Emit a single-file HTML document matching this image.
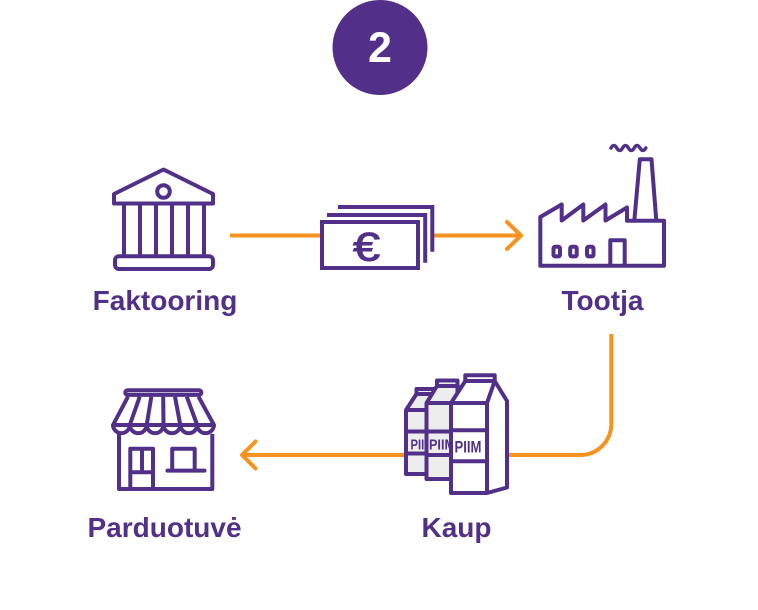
<!DOCTYPE html>
<html>
<head>
<meta charset="utf-8">
<style>
  html, body { margin:0; padding:0; background:#ffffff; }
  body { width:758px; height:610px; overflow:hidden; }
  svg { display:block; }
  .t { font-family:"Liberation Sans", Arial, sans-serif; font-weight:bold; }
</style>
</head>
<body>
<svg width="758" height="610" viewBox="0 0 758 610" xmlns="http://www.w3.org/2000/svg">
  <rect width="758" height="610" fill="#ffffff"/>

  <!-- Badge -->
  <circle cx="380" cy="47.5" r="47.5" fill="#52308a"/>
  <text x="380" y="62" class="t" font-size="43" fill="#ffffff" text-anchor="middle">2</text>

  <g fill="none" stroke="#f7931e" stroke-width="4">
    <!-- top connector -->
    <line x1="230" y1="235.5" x2="322" y2="235.5"/>
    <line x1="432" y1="235.5" x2="520" y2="235.5"/>
    <polyline points="507,222 521,235.5 507,249" stroke-linecap="round" stroke-linejoin="round"/>
    <!-- bottom connector -->
    <path d="M611.3,334 V424 A31,31 0 0 1 580.3,455 H244"/>
    <polyline points="255.5,441.5 242,455 255.5,468.5" stroke-linecap="round" stroke-linejoin="round"/>
  </g>

  <g fill="none" stroke="#52308a" stroke-width="4" stroke-linejoin="round">
    <!-- Bank -->
    <path d="M163.5,169.5 L114,194 V203.5 H213 V194 Z" fill="#ffffff"/>
    <circle cx="163.5" cy="191.5" r="6.3"/>
    <line x1="124" y1="203" x2="124" y2="256"/>
    <line x1="140" y1="203" x2="140" y2="256"/>
    <line x1="156" y1="203" x2="156" y2="256"/>
    <line x1="172" y1="203" x2="172" y2="256"/>
    <line x1="188" y1="203" x2="188" y2="256"/>
    <line x1="204" y1="203" x2="204" y2="256"/>
    <rect x="115" y="256.3" width="98" height="12.7" rx="4"/>

    <!-- Money -->
    <path d="M338,207 H432.3 V251.7 L425,251.7 V215 H338 Z" fill="#ffffff" stroke="none"/>
    <polyline points="338,207 432.3,207 432.3,251.7" stroke-linejoin="miter"/>
    <path d="M327,215 H425.2 V262.7 H418 V222 H327 Z" fill="#ffffff" stroke="none"/>
    <polyline points="327,215 425.2,215 425.2,262.7" stroke-linejoin="miter"/>
    <rect x="322" y="222" width="96" height="46" fill="#ffffff" stroke-linejoin="miter"/>

    <!-- Factory -->
    <path d="M540.3,265.7 V217 L561.7,204.5 V220.5 L583.3,204.5 V220.5 L605.5,204.5 V220.5 L627,207.5 V220.7 H664 V265.7 Z"/>
    <path d="M634.3,220.7 L639.8,159.3 H651.5 L656.3,220.7"/>
    <path d="M611,148 q2.9,-5 5.8,0 t5.8,0 t5.8,0 t5.8,0 t5.8,0 t5.8,0" stroke-width="3.5" stroke-linecap="round"/>
    <rect x="553.5" y="246.8" width="6.5" height="9.6" rx="1.5"/>
    <rect x="570.2" y="246.8" width="6.5" height="9.6" rx="1.5"/>
    <rect x="587" y="246.8" width="6.5" height="9.6" rx="1.5"/>
    <path d="M610.3,265.7 V240.3 H624.7 V265.7"/>

    <!-- Shop -->
    <rect x="125.3" y="390.3" width="76" height="4.6" rx="2.3"/>
    <path d="M128,396.7 L113,425 H214 L198.5,396.7"/>
    <line x1="139.7" y1="396.7" x2="129.8" y2="425"/>
    <line x1="151.3" y1="396.7" x2="146.7" y2="425"/>
    <line x1="163.2" y1="396.7" x2="163.5" y2="425"/>
    <line x1="175" y1="396.7" x2="180.3" y2="425"/>
    <line x1="186.8" y1="396.7" x2="197.2" y2="425"/>
    <path d="M113,425 a8.42,8.42 0 0 0 16.83,0 a8.42,8.42 0 0 0 16.83,0 a8.42,8.42 0 0 0 16.83,0 a8.42,8.42 0 0 0 16.83,0 a8.42,8.42 0 0 0 16.83,0 a8.42,8.42 0 0 0 16.83,0"/>
    <path d="M119,434 V489 H212.3 V434"/>
    <path d="M130.3,489 V448.7 H153 V489"/>
    <line x1="130.3" y1="472.3" x2="153" y2="472.3"/>
    <line x1="142" y1="448.7" x2="142" y2="472.3"/>
    <path d="M172.2,470 V448.7 H194.7 V470"/>
    <line x1="167.5" y1="470.6" x2="204.5" y2="470.6" stroke-linecap="round"/>

    <!-- Milk cartons: back -->
    <path d="M406,474 V410 L416.5,394 H434 L448,408.5 V470 L433,474 Z" fill="#ededed"/>
    <rect x="416.5" y="389" width="17.5" height="5" fill="#ededed"/>
    <path d="M406,410 H433 V474 M433,410 L434,394"/>
    <line x1="406" y1="431.5" x2="433" y2="431.5"/>
    <line x1="406" y1="453.5" x2="433" y2="453.5"/>
  </g>
  <text x="410.5" y="449.5" class="t" font-size="15" fill="#52308a" textLength="23" lengthAdjust="spacingAndGlyphs">PIIM</text>

  <g fill="none" stroke="#52308a" stroke-width="4" stroke-linejoin="round">
    <!-- middle carton -->
    <path d="M426.5,479 V403 L437,386 H457.5 L474.5,402 V475 L457.5,479 Z" fill="#ededed"/>
    <rect x="437" y="380.5" width="20.5" height="5.5" fill="#ededed"/>
    <path d="M426.5,403 H457.5 V479 M457.5,403 L457.5,386"/>
    <line x1="426.5" y1="431.5" x2="457.5" y2="431.5"/>
    <line x1="426.5" y1="455" x2="457.5" y2="455"/>
  </g>
  <text x="429" y="449.5" class="t" font-size="15" fill="#52308a" textLength="26" lengthAdjust="spacingAndGlyphs">PIIM</text>

  <g fill="none" stroke="#52308a" stroke-width="4" stroke-linejoin="round">
    <!-- front carton -->
    <path d="M451,493 V403 L465.3,381 H494.7 L507,401 V487.5 L487,493 Z" fill="#ffffff"/>
    <rect x="465.3" y="375.3" width="29.4" height="5.7" fill="#ffffff"/>
    <path d="M451,403 H487 V493 M487,403 L494.7,381"/>
    <line x1="451" y1="430.3" x2="487" y2="430.3"/>
    <line x1="451" y1="461.3" x2="487" y2="461.3"/>
  </g>
  <text x="454.5" y="452.5" class="t" font-size="17" fill="#52308a" textLength="27" lengthAdjust="spacingAndGlyphs">PIIM</text>

  <!-- Euro -->
  <text x="353" y="260.5" font-family="Liberation Sans, Arial, sans-serif" font-size="40" fill="#52308a" stroke="#52308a" stroke-width="1" textLength="27" lengthAdjust="spacingAndGlyphs">€</text>

  <!-- Labels -->
  <text x="165" y="310" class="t" font-size="28" fill="#52308a" text-anchor="middle">Faktooring</text>
  <text x="602.5" y="310" class="t" font-size="28" fill="#52308a" text-anchor="middle">Tootja</text>
  <text x="164.5" y="537" class="t" font-size="28" fill="#52308a" text-anchor="middle">Parduotuvė</text>
  <text x="456.5" y="537" class="t" font-size="28" fill="#52308a" text-anchor="middle">Kaup</text>
</svg>
</body>
</html>
